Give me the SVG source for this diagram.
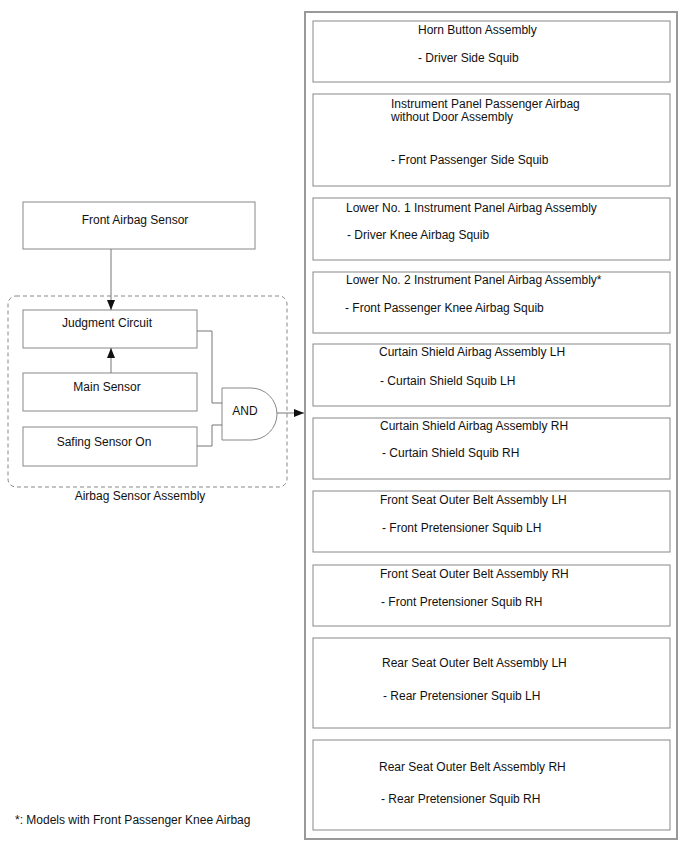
<svg xmlns="http://www.w3.org/2000/svg" width="688" height="852" viewBox="0 0 688 852">
<defs>
<style>
.box{fill:#fff;stroke:#888;stroke-width:1}
.outer{fill:#fff;stroke:#999;stroke-width:2}
.t{font-family:"Liberation Sans",Arial,sans-serif;font-size:12px;fill:#111}
.c{text-anchor:middle}
.ln{fill:none;stroke:#777;stroke-width:1}
.dash{fill:none;stroke:#888;stroke-width:1;stroke-dasharray:4,3}
</style>
<marker id="arr" viewBox="0 0 10 10" refX="10" refY="5" markerWidth="10" markerHeight="10" markerUnits="userSpaceOnUse" orient="auto">
<path d="M0,1 L10,5 L0,9 Z" fill="#111"/>
</marker>
</defs>
<rect width="688" height="852" fill="#fff"/>

<g id="squib-container">
<rect class="outer" x="305" y="12" width="372" height="827"/>
</g>

<g id="horn-button">
<rect class="box" x="313" y="21" width="357" height="61"/>
<text class="t" x="418" y="34">Horn Button Assembly</text>
<text class="t" x="418" y="62">- Driver Side Squib</text>
</g>
<g id="ip-passenger">
<rect class="box" x="313" y="94" width="357" height="92"/>
<text class="t" x="391" y="108">Instrument Panel Passenger Airbag</text>
<text class="t" x="391" y="121">without Door Assembly</text>
<text class="t" x="391" y="164">- Front Passenger Side Squib</text>
</g>
<g id="lower-no1">
<rect class="box" x="313" y="198" width="357" height="62"/>
<text class="t" x="346" y="212">Lower No. 1 Instrument Panel Airbag Assembly</text>
<text class="t" x="347" y="239">- Driver Knee Airbag Squib</text>
</g>
<g id="lower-no2">
<rect class="box" x="313" y="272" width="357" height="61"/>
<text class="t" x="346" y="284">Lower No. 2 Instrument Panel Airbag Assembly*</text>
<text class="t" x="345" y="312">- Front Passenger Knee Airbag Squib</text>
</g>
<g id="curtain-lh">
<rect class="box" x="313" y="344" width="357" height="62"/>
<text class="t" x="379" y="356">Curtain Shield Airbag Assembly LH</text>
<text class="t" x="380" y="385">- Curtain Shield Squib LH</text>
</g>
<g id="curtain-rh">
<rect class="box" x="313" y="418" width="357" height="61"/>
<text class="t" x="380" y="430">Curtain Shield Airbag Assembly RH</text>
<text class="t" x="382" y="457">- Curtain Shield Squib RH</text>
</g>
<g id="front-belt-lh">
<rect class="box" x="313" y="491" width="357" height="61"/>
<text class="t" x="380" y="504">Front Seat Outer Belt Assembly LH</text>
<text class="t" x="382" y="532">- Front Pretensioner Squib LH</text>
</g>
<g id="front-belt-rh">
<rect class="box" x="313" y="565" width="357" height="61"/>
<text class="t" x="380" y="578">Front Seat Outer Belt Assembly RH</text>
<text class="t" x="381" y="606">- Front Pretensioner Squib RH</text>
</g>
<g id="rear-belt-lh">
<rect class="box" x="313" y="638" width="357" height="90"/>
<text class="t" x="382" y="667">Rear Seat Outer Belt Assembly LH</text>
<text class="t" x="383" y="700">- Rear Pretensioner Squib LH</text>
</g>
<g id="rear-belt-rh">
<rect class="box" x="313" y="740" width="357" height="90"/>
<text class="t" x="379" y="771">Rear Seat Outer Belt Assembly RH</text>
<text class="t" x="381" y="803">- Rear Pretensioner Squib RH</text>
</g>

<g id="airbag-sensor-assembly">
<rect class="dash" x="8" y="296" width="279" height="191" rx="8" ry="8"/>
<text class="t c" x="140" y="500">Airbag Sensor Assembly</text>
</g>
<g id="front-airbag-sensor">
<rect class="box" x="23" y="202" width="232" height="47"/>
<text class="t c" x="135" y="224">Front Airbag Sensor</text>
</g>
<g id="judgment-circuit">
<rect class="box" x="23" y="310" width="174" height="38"/>
<text class="t c" x="107" y="327">Judgment Circuit</text>
</g>
<g id="main-sensor">
<rect class="box" x="23" y="373" width="174" height="38"/>
<text class="t c" x="107" y="391">Main Sensor</text>
</g>
<g id="safing-sensor">
<rect class="box" x="23" y="427" width="174" height="39"/>
<text class="t c" x="104" y="446">Safing Sensor On</text>
</g>
<g id="and-gate">
<path class="box" d="M222,388 L251,388 A26,26 0 0 1 251,440 L222,440 Z"/>
<text class="t c" x="245" y="415">AND</text>
</g>

<g id="connectors">
<line class="ln" x1="111" y1="249" x2="111" y2="310" marker-end="url(#arr)"/>
<line class="ln" x1="111" y1="373" x2="111" y2="348" marker-end="url(#arr)"/>
<polyline class="ln" points="197,331 212,331 212,403 222,403"/>
<polyline class="ln" points="197,446 212,446 212,425 222,425"/>
<line class="ln" x1="277" y1="413" x2="304" y2="413" marker-end="url(#arr)"/>
</g>

<g id="footnote">
<text class="t" x="15" y="824">*: Models with Front Passenger Knee Airbag</text>
</g>
</svg>
